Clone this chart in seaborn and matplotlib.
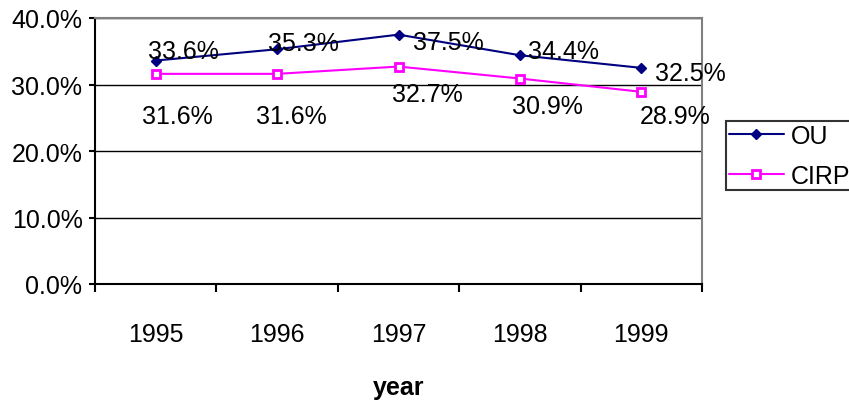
import numpy as np
import pandas as pd
import seaborn as sns
import matplotlib.pyplot as plt
from matplotlib.ticker import PercentFormatter, FixedLocator

years = ["1995", "1996", "1997", "1998", "1999"]
ou = [0.336, 0.353, 0.375, 0.344, 0.325]
cirp = [0.316, 0.316, 0.327, 0.309, 0.289]
series_names = ["OU", "CIRP"]

df = pd.DataFrame({
    "year": years * 2,
    "rate": ou + cirp,
    "series": [series_names[0]] * len(years) + [series_names[1]] * len(years),
})

sns.set_style("white")
plt.rcParams["font.family"] = ["Liberation Sans", "DejaVu Sans"]
plt.rcParams["text.color"] = "black"
plt.rcParams["xtick.color"] = "black"
plt.rcParams["ytick.color"] = "black"
plt.rcParams["axes.labelcolor"] = "black"

fs = 18

fig = plt.figure(figsize=(8.49, 4.02), dpi=100)
ax = fig.add_axes([95 / 849, 1 - 285 / 402, (702 - 95) / 849, (285 - 19) / 402])

colors = {"OU": "#000080", "CIRP": "#FF00FF"}
sns.lineplot(data=df, x="year", y="rate", hue="series", style="series",
             palette=colors, markers={"OU": "D", "CIRP": "s"}, dashes=False,
             linewidth=1.5, legend=False, ax=ax)

# marker looks like in the old excel chart
l_ou, l_cirp = ax.lines[0], ax.lines[1]
l_ou.set_markersize(5.5)
l_ou.set_markerfacecolor("#000080")
l_ou.set_markeredgecolor("#000080")
l_ou.set_markeredgewidth(1)
l_cirp.set_markersize(6)
l_cirp.set_markerfacecolor("white")
l_cirp.set_markeredgecolor("#FF00FF")
l_cirp.set_markeredgewidth(2)

ax.set_xlim(-0.5, 4.5)
ax.set_ylim(0, 0.4)
ax.yaxis.set_major_locator(FixedLocator([0, 0.1, 0.2, 0.3, 0.4]))
ax.yaxis.set_major_formatter(PercentFormatter(1.0, decimals=1))
ax.xaxis.set_minor_locator(FixedLocator(np.arange(-0.5, 5, 1)))
ax.tick_params(axis="x", which="major", length=0, pad=27, labelsize=fs)
ax.tick_params(axis="x", which="minor", length=6, width=1.5, direction="out",
               color="black", bottom=True)
ax.tick_params(axis="y", which="major", length=4, width=1.5, direction="out",
               pad=5, labelsize=fs, color="black", left=True)

ax.grid(axis="y", color="black", linewidth=1)
ax.grid(axis="x", visible=False)
ax.set_axisbelow(True)
for s in ["left", "bottom"]:
    ax.spines[s].set_color("black")
    ax.spines[s].set_linewidth(1.5)
for s in ["top", "right"]:
    ax.spines[s].set_color("#808080")
    ax.spines[s].set_linewidth(1.5)

ax.set_ylabel("")
ax.set_xlabel("year", fontsize=fs, fontweight="bold", labelpad=21)

# data labels (dragged around by hand in the original)
ou_off = [(28, 10), (26, 6), (50, -7), (44, 4), (49, -5)]
cirp_off = [(22, -42), (14, -42), (29, -27), (28, -27), (34, -24)]
for i, v in enumerate(ou):
    ax.annotate(f"{v * 100:.1f}%", (i, v), xytext=ou_off[i], textcoords="offset pixels",
                ha="center", va="center", fontsize=fs, annotation_clip=False)
for i, v in enumerate(cirp):
    ax.annotate(f"{v * 100:.1f}%", (i, v), xytext=cirp_off[i], textcoords="offset pixels",
                ha="center", va="center", fontsize=fs, annotation_clip=False)

leg = fig.legend(handles=[l_ou, l_cirp], labels=series_names, loc="upper left",
                 bbox_to_anchor=(726 / 849, 1 - 122 / 402), fontsize=fs,
                 frameon=True, fancybox=False, borderpad=0.1, labelspacing=0.65,
                 handlelength=2.2, handletextpad=0.3, borderaxespad=0)
leg.get_frame().set_edgecolor("black")
leg.get_frame().set_linewidth(1.5)

plt.savefig("out.png", dpi=100)
